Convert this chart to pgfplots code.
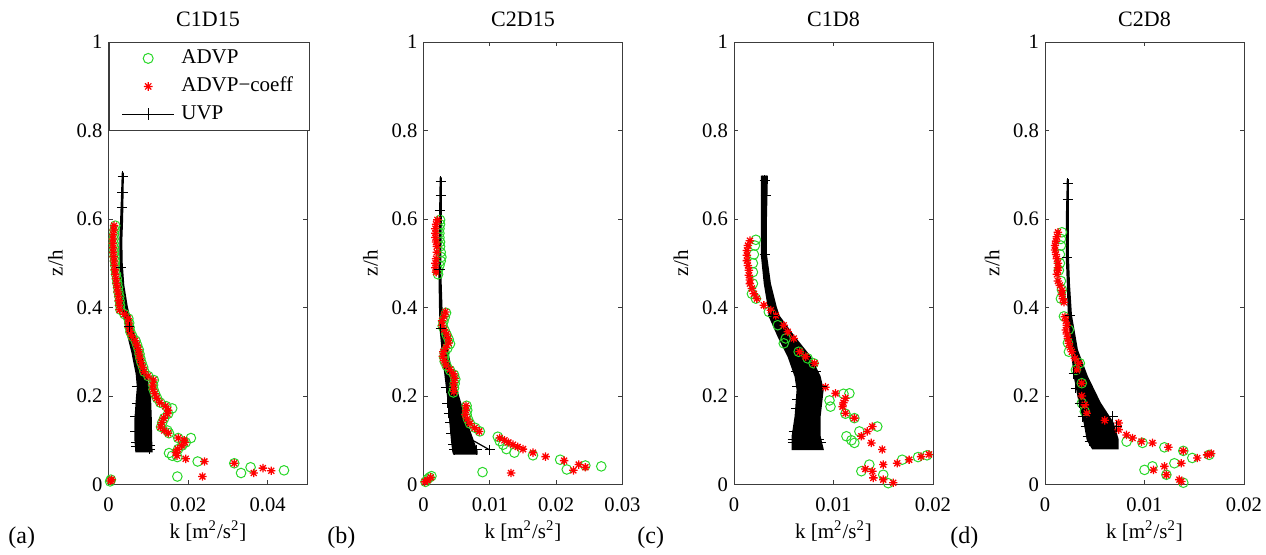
\documentclass[border=0pt]{standalone}
\usepackage{fontspec}
\setmainfont{Liberation Serif}
\usepackage{pgfplots}
\pgfplotsset{compat=1.18}
\definecolor{mgreen}{RGB}{40,215,40}
\definecolor{mred}{RGB}{255,0,0}
\definecolor{axgray}{RGB}{60,60,60}
\pgfdeclareplotmark{mstar}{%
 \pgfpathmoveto{\pgfqpoint{-\pgfplotmarksize}{0pt}}\pgfpathlineto{\pgfqpoint{\pgfplotmarksize}{0pt}}%
 \pgfpathmoveto{\pgfqpoint{0pt}{-\pgfplotmarksize}}\pgfpathlineto{\pgfqpoint{0pt}{\pgfplotmarksize}}%
 \pgfpathmoveto{\pgfqpoint{-.7071\pgfplotmarksize}{-.7071\pgfplotmarksize}}\pgfpathlineto{\pgfqpoint{.7071\pgfplotmarksize}{.7071\pgfplotmarksize}}%
 \pgfpathmoveto{\pgfqpoint{-.7071\pgfplotmarksize}{.7071\pgfplotmarksize}}\pgfpathlineto{\pgfqpoint{.7071\pgfplotmarksize}{-.7071\pgfplotmarksize}}%
 \pgfusepathqstroke}
\pgfplotsset{
 panel/.style={
  width=99.5pt, height=221.25pt, scale only axis, anchor=south west,
  ymin=0, ymax=1, ytick={0,0.2,0.4,0.6,0.8,1}, yticklabels={0,0.2,0.4,0.6,0.8,1},
  scaled x ticks=false, scaled y ticks=false,
  tick align=inside, major tick length=2.2pt, clip=false,
  axis line style={axgray, line width=0.5pt},
  every tick/.style={axgray, line width=0.5pt},
  tick label style={font=\fontsize{10.3}{12}\selectfont, text=black},
  label style={font=\fontsize{10.5}{12}\selectfont},
  title style={font=\fontsize{11}{13}\selectfont, at={(0.5,1)}, anchor=base, yshift=1.9pt},
  xticklabel style={yshift=-3pt},
  yticklabel style={xshift=0.5pt},
  ylabel={z/h},
  xlabel={k [m\textsuperscript{2}/s\textsuperscript{2}]},
  xlabel style={at={(axis description cs:0.5,0)}, anchor=base, yshift=-27pt},
  legend image code/.code={\draw[mark repeat=2,mark phase=2,#1] plot coordinates {(0pt,0pt) (13pt,0pt) (26pt,0pt)};},
 },
 advp/.style={only marks, mark=o, mark size=2.4pt, mgreen, line width=0.5pt, forget plot},
 coef/.style={only marks, mark=mstar, mark size=2.1pt, mred, line width=0.65pt, forget plot},
 bundle/.style={fill=black, draw=black, line width=1.1pt, forget plot},
 uvpm/.style={only marks, mark=+, mark size=2.6pt, black, line width=0.5pt, forget plot},
}
\begin{document}
\begin{tikzpicture}
\path[use as bounding box] (0pt,0pt) rectangle (633pt,277pt);
% ---------------- (a) C1D15
\begin{axis}[panel, at={(54.25pt,34.75pt)}, title={C1D15},
  xmin=0, xmax=0.05, xtick={0,0.02,0.04}, xticklabels={0,0.02,0.04},
  legend cell align=left,
  legend style={at={(0,1)}, anchor=north west, draw=axgray, fill=white,
    inner xsep=6.4pt, inner ysep=1pt, row sep=0pt,
    nodes={inner xsep=3.35pt, inner ysep=2.5pt, text width=54pt, text height=7pt, text depth=2pt, align=left, font=\fontsize{10.5}{12}\selectfont}}]
\addlegendimage{only marks, mark=o, mark size=2.5pt, mgreen, line width=0.5pt}
\addlegendentry{ADVP}
\addlegendimage{only marks, mark=mstar, mark size=2.2pt, mred, line width=0.6pt}
\addlegendentry{ADVP−coeff}
\addlegendimage{black, mark=+, mark size=3pt, line width=0.5pt}
\addlegendentry{UVP}
\addplot[advp] coordinates {(0.0017,0.585)(0.0015,0.575)(0.0014,0.565)(0.0013,0.555)(0.0013,0.545)(0.0014,0.535)(0.0014,0.525)(0.0015,0.515)(0.0016,0.505)(0.0017,0.495)(0.0018,0.485)(0.0019,0.475)(0.0021,0.465)(0.0022,0.455)(0.0024,0.445)(0.0025,0.435)(0.0027,0.425)(0.0028,0.415)(0.0029,0.405)(0.0030,0.395)(0.0040,0.385)(0.0050,0.375)(0.0052,0.365)(0.0053,0.355)(0.0055,0.345)(0.0060,0.335)(0.0068,0.325)(0.0072,0.315)(0.0076,0.305)(0.0078,0.295)(0.0080,0.285)(0.0083,0.275)(0.0087,0.265)(0.0090,0.255)(0.0100,0.245)(0.0114,0.236)(0.0112,0.225)(0.0113,0.215)(0.0117,0.205)(0.0122,0.195)(0.0130,0.185)(0.0145,0.177)(0.0160,0.172)(0.0150,0.16)(0.0140,0.15)(0.0135,0.14)(0.0132,0.13)(0.0148,0.122)(0.0152,0.116)(0.0175,0.105)(0.0207,0.105)(0.0194,0.095)(0.0185,0.088)(0.0175,0.08)(0.0152,0.071)(0.0160,0.065)(0.0173,0.062)(0.0224,0.052)(0.0316,0.048)(0.0333,0.026)(0.0357,0.039)(0.0441,0.032)(0.0173,0.018)(0.0004,0.007)(0.0006,0.011)};
\addplot[coef] coordinates {(0.0014,0.585)(0.0013,0.575)(0.0012,0.565)(0.0011,0.555)(0.0011,0.545)(0.0012,0.535)(0.0012,0.525)(0.0013,0.515)(0.0014,0.505)(0.0015,0.495)(0.0016,0.485)(0.0017,0.475)(0.0019,0.465)(0.0020,0.455)(0.0022,0.445)(0.0023,0.435)(0.0025,0.425)(0.0026,0.415)(0.0027,0.405)(0.0028,0.395)(0.0040,0.385)(0.0049,0.375)(0.0051,0.365)(0.0052,0.355)(0.0054,0.345)(0.0059,0.335)(0.0067,0.325)(0.0071,0.315)(0.0075,0.305)(0.0077,0.295)(0.0079,0.285)(0.0082,0.275)(0.0086,0.265)(0.0089,0.255)(0.0099,0.245)(0.0113,0.236)(0.0111,0.225)(0.0112,0.215)(0.0116,0.205)(0.0121,0.195)(0.0129,0.185)(0.0143,0.177)(0.0150,0.168)(0.0148,0.16)(0.0139,0.15)(0.0134,0.14)(0.0131,0.13)(0.0140,0.122)(0.0150,0.116)(0.0175,0.105)(0.0190,0.1)(0.0192,0.095)(0.0184,0.088)(0.0174,0.08)(0.0169,0.072)(0.0172,0.065)(0.0194,0.058)(0.0241,0.052)(0.0236,0.018)(0.0316,0.048)(0.0365,0.026)(0.0388,0.037)(0.0409,0.031)(0.0005,0.008)(0.0008,0.011)};
\addplot[bundle] coordinates {(0.0036,0.705)(0.0034,0.65)(0.0032,0.6)(0.0030,0.55)(0.0030,0.5)(0.0032,0.45)(0.0036,0.4)(0.0046,0.35)(0.0060,0.3)(0.0071,0.25)(0.0074,0.22)(0.0072,0.2)(0.0068,0.15)(0.0068,0.1)(0.0070,0.075)(0.0108,0.075)(0.0107,0.1)(0.0106,0.15)(0.0104,0.2)(0.0100,0.22)(0.0093,0.25)(0.0079,0.3)(0.0060,0.35)(0.0046,0.4)(0.0037,0.45)(0.0033,0.5)(0.0032,0.55)(0.0034,0.6)(0.0035,0.65)(0.0036,0.705)};
\addplot[uvpm] coordinates {(0.0036,0.697)(0.0035,0.66)(0.0034,0.627)(0.0031,0.491)(0.0052,0.356)(0.0072,0.221)(0.0071,0.184)(0.0068,0.154)(0.0068,0.12)(0.0069,0.094)(0.0070,0.086)(0.0105,0.088)(0.0104,0.08)};
\end{axis}
% ---------------- (b) C2D15
\begin{axis}[panel, at={(211.75pt,34.75pt)}, title={C2D15},
  xmin=0, xmax=0.03, xtick={0,0.01,0.02,0.03}, xticklabels={0,0.01,0.02,0.03}]
\addplot[advp] coordinates {(0.0025,0.598)(0.0025,0.588)(0.0024,0.578)(0.0024,0.568)(0.0024,0.558)(0.0025,0.548)(0.0025,0.538)(0.0026,0.525)(0.0027,0.514)(0.0026,0.505)(0.0024,0.495)(0.0022,0.485)(0.0022,0.475)(0.0034,0.388)(0.0032,0.378)(0.0030,0.368)(0.0029,0.358)(0.0032,0.348)(0.0035,0.338)(0.0038,0.328)(0.0040,0.318)(0.0036,0.308)(0.0032,0.298)(0.0031,0.288)(0.0032,0.278)(0.0035,0.268)(0.0040,0.258)(0.0046,0.248)(0.0048,0.238)(0.0047,0.228)(0.0046,0.218)(0.0045,0.208)(0.0065,0.178)(0.0066,0.168)(0.0065,0.158)(0.0067,0.148)(0.0070,0.138)(0.0078,0.128)(0.0085,0.12)(0.0112,0.108)(0.0115,0.098)(0.0120,0.09)(0.0125,0.08)(0.0137,0.072)(0.0165,0.066)(0.0206,0.056)(0.0216,0.034)(0.0244,0.043)(0.0268,0.041)(0.0089,0.028)(0.0003,0.006)(0.0006,0.012)(0.0009,0.016)(0.0012,0.019)};
\addplot[coef] coordinates {(0.0021,0.598)(0.0019,0.588)(0.0018,0.578)(0.0018,0.568)(0.0018,0.558)(0.0019,0.548)(0.0020,0.538)(0.0020,0.525)(0.0019,0.51)(0.0018,0.5)(0.0018,0.49)(0.0019,0.48)(0.0033,0.39)(0.0031,0.38)(0.0028,0.37)(0.0028,0.36)(0.0031,0.35)(0.0035,0.34)(0.0037,0.33)(0.0038,0.32)(0.0034,0.31)(0.0030,0.3)(0.0029,0.29)(0.0031,0.28)(0.0034,0.27)(0.0040,0.26)(0.0045,0.25)(0.0047,0.24)(0.0046,0.23)(0.0045,0.22)(0.0046,0.21)(0.0064,0.178)(0.0064,0.168)(0.0063,0.158)(0.0066,0.148)(0.0070,0.138)(0.0077,0.128)(0.0084,0.12)(0.0115,0.105)(0.0122,0.1)(0.0128,0.095)(0.0135,0.09)(0.0142,0.085)(0.0150,0.08)(0.0165,0.072)(0.0184,0.063)(0.0212,0.054)(0.0226,0.032)(0.0234,0.045)(0.0244,0.039)(0.0132,0.026)(0.0002,0.006)(0.0006,0.01)(0.0011,0.016)};
\addplot[bundle] coordinates {(0.0026,0.694)(0.0025,0.6)(0.0024,0.49)(0.0025,0.4)(0.0026,0.35)(0.0029,0.3)(0.0033,0.25)(0.0037,0.2)(0.0040,0.15)(0.0043,0.1)(0.0045,0.075)(0.0046,0.07)(0.0080,0.07)(0.0080,0.075)(0.0074,0.1)(0.0062,0.15)(0.0052,0.2)(0.0042,0.25)(0.0036,0.3)(0.0030,0.35)(0.0027,0.4)(0.0025,0.49)(0.0026,0.6)(0.0026,0.694)};
\addplot[black, line width=0.6pt, forget plot] coordinates {(0.0074,0.1)(0.0100,0.078)};
\addplot[uvpm] coordinates {(0.0026,0.685)(0.0026,0.653)(0.0025,0.619)(0.0024,0.485)(0.0026,0.352)(0.0034,0.219)(0.0036,0.184)(0.0038,0.161)(0.0040,0.139)(0.0042,0.116)(0.0045,0.09)(0.0046,0.078)(0.0100,0.078)(0.0080,0.078)};
\end{axis}
% ---------------- (c) C1D8
\begin{axis}[panel, at={(367pt,34.75pt)}, title={C1D8},
  xmin=0, xmax=0.02, xtick={0,0.01,0.02}, xticklabels={0,0.01,0.02}]
\addplot[advp] coordinates {(0.0022,0.553)(0.0021,0.54)(0.0020,0.52)(0.0019,0.50)(0.0019,0.48)(0.0019,0.454)(0.0018,0.431)(0.0022,0.42)(0.0035,0.39)(0.0044,0.36)(0.0050,0.319)(0.0052,0.33)(0.0065,0.3)(0.0074,0.285)(0.0080,0.274)(0.0097,0.176)(0.0096,0.19)(0.0116,0.206)(0.0113,0.109)(0.0118,0.1)(0.0121,0.094)(0.0126,0.12)(0.0144,0.131)(0.0128,0.03)(0.0136,0.045)(0.0150,0.022)(0.0155,0.003)(0.0169,0.056)(0.0185,0.062)(0.0194,0.066)(0.0110,0.205)(0.0112,0.16)(0.0121,0.15)};
\addplot[coef] coordinates {(0.0016,0.551)(0.0014,0.54)(0.0013,0.529)(0.0013,0.518)(0.0013,0.506)(0.0014,0.495)(0.0015,0.484)(0.0015,0.473)(0.0016,0.462)(0.0016,0.454)(0.0018,0.443)(0.0020,0.431)(0.0023,0.42)(0.0030,0.405)(0.0037,0.394)(0.0042,0.382)(0.0050,0.36)(0.0054,0.345)(0.0060,0.33)(0.0066,0.3)(0.0072,0.289)(0.0081,0.274)(0.0092,0.22)(0.0102,0.206)(0.0112,0.195)(0.0110,0.185)(0.0109,0.176)(0.0112,0.161)(0.0121,0.15)(0.0139,0.131)(0.0134,0.12)(0.0128,0.109)(0.0138,0.094)(0.0149,0.079)(0.0164,0.048)(0.0176,0.056)(0.0188,0.063)(0.0196,0.068)(0.0139,0.03)(0.0140,0.015)(0.0150,0.045)(0.0150,0.011)(0.0160,0.004)(0.0132,0.035)};
\addplot[bundle] coordinates {(0.0028,0.698)(0.0028,0.6)(0.0028,0.52)(0.0031,0.454)(0.0035,0.4)(0.0036,0.38)(0.0045,0.334)(0.0055,0.289)(0.0062,0.244)(0.0064,0.214)(0.0062,0.154)(0.0059,0.109)(0.0059,0.08)(0.0089,0.08)(0.0086,0.109)(0.0086,0.154)(0.0089,0.214)(0.0086,0.244)(0.0076,0.289)(0.0060,0.334)(0.0045,0.38)(0.0042,0.4)(0.0036,0.454)(0.0032,0.52)(0.0032,0.6)(0.0033,0.698)};
\addplot[uvpm] coordinates {(0.0031,0.688)(0.0032,0.654)(0.0031,0.52)(0.0039,0.381)(0.0063,0.255)(0.0064,0.222)(0.0064,0.191)(0.0063,0.172)(0.0060,0.12)(0.0059,0.101)(0.0059,0.094)(0.0082,0.255)(0.0088,0.222)(0.0087,0.094)(0.0085,0.101)};
\end{axis}
% ---------------- (d) C2D8
\begin{axis}[panel, at={(522.5pt,34.75pt)}, title={C2D8},
  xmin=0, xmax=0.02, xtick={0,0.01,0.02}, xticklabels={0,0.01,0.02}]
\addplot[advp] coordinates {(0.0017,0.57)(0.0016,0.555)(0.0016,0.54)(0.0015,0.52)(0.0015,0.5)(0.0014,0.484)(0.0016,0.46)(0.0017,0.44)(0.0016,0.42)(0.0019,0.38)(0.0024,0.35)(0.0023,0.32)(0.0024,0.3)(0.0035,0.274)(0.0031,0.259)(0.0037,0.229)(0.0037,0.184)(0.0040,0.165)(0.0082,0.097)(0.0098,0.094)(0.0120,0.084)(0.0139,0.076)(0.0148,0.06)(0.0165,0.067)(0.0130,0.048)(0.0108,0.041)(0.0100,0.033)(0.0122,0.022)(0.0139,0.004)};
\addplot[coef] coordinates {(0.0013,0.57)(0.0012,0.56)(0.0011,0.55)(0.0010,0.54)(0.0010,0.53)(0.0011,0.52)(0.0012,0.51)(0.0013,0.5)(0.0013,0.49)(0.0013,0.484)(0.0012,0.475)(0.0013,0.46)(0.0015,0.45)(0.0017,0.439)(0.0017,0.43)(0.0018,0.42)(0.0019,0.412)(0.0020,0.379)(0.0021,0.37)(0.0022,0.36)(0.0021,0.349)(0.0022,0.34)(0.0023,0.33)(0.0024,0.319)(0.0025,0.31)(0.0027,0.3)(0.0030,0.285)(0.0034,0.274)(0.0032,0.259)(0.0037,0.229)(0.0037,0.2)(0.0040,0.18)(0.0042,0.161)(0.0060,0.145)(0.0074,0.139)(0.0074,0.124)(0.0082,0.112)(0.0088,0.105)(0.0097,0.097)(0.0108,0.094)(0.0124,0.084)(0.0139,0.076)(0.0153,0.06)(0.0163,0.067)(0.0167,0.07)(0.0137,0.048)(0.0120,0.041)(0.0109,0.033)(0.0122,0.022)(0.0137,0.007)(0.0135,0.011)};
\addplot[bundle] coordinates {(0.0023,0.69)(0.0022,0.6)(0.0022,0.514)(0.0023,0.454)(0.0024,0.382)(0.0027,0.304)(0.0030,0.244)(0.0035,0.184)(0.0040,0.139)(0.0043,0.101)(0.0048,0.082)(0.0073,0.082)(0.0073,0.101)(0.0068,0.139)(0.0055,0.184)(0.0042,0.244)(0.0032,0.304)(0.0026,0.382)(0.0024,0.454)(0.0023,0.514)(0.0023,0.6)(0.0023,0.69)};
\addplot[uvpm] coordinates {(0.0023,0.68)(0.0023,0.645)(0.0022,0.514)(0.0025,0.382)(0.0029,0.251)(0.0031,0.218)(0.0035,0.184)(0.0038,0.154)(0.0041,0.131)(0.0043,0.109)(0.0045,0.098)(0.0068,0.154)(0.0072,0.131)};
\end{axis}
\node[anchor=base west, inner sep=0pt, font=\fontsize{12}{14}\selectfont] at (4pt,5.5pt) {(a)};
\node[anchor=base west, inner sep=0pt, font=\fontsize{12}{14}\selectfont] at (163.5pt,5.5pt) {(b)};
\node[anchor=base west, inner sep=0pt, font=\fontsize{12}{14}\selectfont] at (318.5pt,5.5pt) {(c)};
\node[anchor=base west, inner sep=0pt, font=\fontsize{12}{14}\selectfont] at (475pt,5.5pt) {(d)};
\end{tikzpicture}
\end{document}
